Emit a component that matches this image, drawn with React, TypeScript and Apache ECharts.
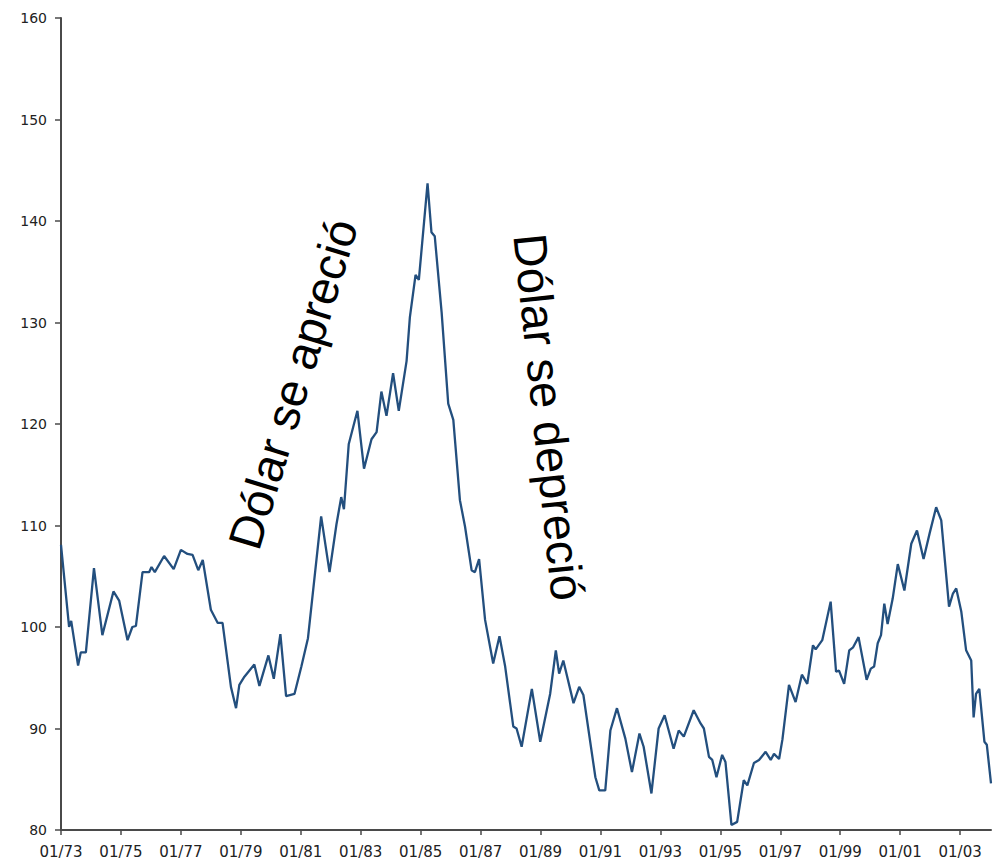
import React, { useEffect, useRef } from "react";
import * as echarts from "echarts";

// Decimal year of each reading (start of 1973 = 1973.0)
const dates: number[] = [
  1973.0, 1973.27, 1973.34, 1973.57, 1973.66, 1973.83, 1974.1, 1974.38, 1974.75, 1974.94,
  1975.22, 1975.38, 1975.5, 1975.72, 1975.94, 1976.02, 1976.13, 1976.44, 1976.76, 1977.0,
  1977.22, 1977.39, 1977.58, 1977.73, 1978.0, 1978.23, 1978.39, 1978.67, 1978.84, 1978.95,
  1979.12, 1979.45, 1979.62, 1979.92, 1980.1, 1980.32, 1980.51, 1980.79, 1981.02, 1981.24,
  1981.68, 1981.96, 1982.19, 1982.35, 1982.44, 1982.6, 1982.89, 1983.11, 1983.36, 1983.53,
  1983.69, 1983.86, 1984.08, 1984.27, 1984.53, 1984.64, 1984.83, 1984.94, 1985.23, 1985.36,
  1985.47, 1985.7, 1985.92, 1986.09, 1986.31, 1986.48, 1986.7, 1986.81, 1986.95, 1987.15,
  1987.42, 1987.63, 1987.82, 1988.09, 1988.2, 1988.37, 1988.71, 1988.99, 1989.32, 1989.51,
  1989.62, 1989.76, 1990.1, 1990.29, 1990.43, 1990.83, 1990.96, 1991.16, 1991.33, 1991.55,
  1991.83, 1992.05, 1992.3, 1992.44, 1992.7, 1992.94, 1993.14, 1993.44, 1993.61, 1993.78,
  1994.11, 1994.34, 1994.45, 1994.62, 1994.73, 1994.87, 1995.06, 1995.17, 1995.37, 1995.56,
  1995.78, 1995.9, 1996.12, 1996.29, 1996.51, 1996.68, 1996.79, 1996.96, 1997.07, 1997.29,
  1997.51, 1997.72, 1997.9, 1998.09, 1998.18, 1998.4, 1998.68, 1998.86, 1998.96, 1999.13,
  1999.3, 1999.43, 1999.61, 1999.88, 2000.02, 2000.13, 2000.25, 2000.36, 2000.47, 2000.58,
  2000.75, 2000.92, 2001.14, 2001.37, 2001.56, 2001.78, 2001.98, 2002.2, 2002.37, 2002.63,
  2002.76, 2002.87, 2003.04, 2003.2, 2003.37, 2003.45, 2003.53, 2003.64, 2003.81, 2003.89,
  2004.03,
];

// Dollar index readings
const values: number[] = [
  108.1, 100.0, 100.6, 96.2, 97.5, 97.5, 105.8, 99.2, 103.5, 102.6,
  98.7, 100.0, 100.1, 105.4, 105.4, 105.9, 105.4, 107.0, 105.7, 107.6,
  107.2, 107.1, 105.6, 106.6, 101.7, 100.4, 100.4, 94.1, 92.0, 94.3,
  95.1, 96.3, 94.2, 97.2, 94.9, 99.3, 93.2, 93.4, 96.1, 98.9,
  110.9, 105.4, 110.1, 112.8, 111.6, 118.0, 121.3, 115.6, 118.5, 119.2,
  123.2, 120.8, 125.0, 121.3, 126.2, 130.5, 134.7, 134.2, 143.7, 138.9,
  138.5, 131.0, 122.0, 120.4, 112.5, 109.9, 105.6, 105.4, 106.7, 100.7,
  96.4, 99.1, 96.1, 90.2, 90.0, 88.2, 93.9, 88.7, 93.4, 97.7,
  95.4, 96.7, 92.5, 94.1, 93.3, 85.2, 83.9, 83.9, 89.8, 92.0,
  89.0, 85.7, 89.5, 88.2, 83.6, 90.0, 91.3, 88.0, 89.8, 89.2,
  91.8, 90.5, 90.0, 87.2, 86.9, 85.2, 87.4, 86.7, 80.5, 80.8,
  84.9, 84.4, 86.6, 86.9, 87.7, 86.9, 87.5, 87.0, 88.9, 94.3,
  92.6, 95.3, 94.4, 98.2, 97.8, 98.7, 102.5, 95.6, 95.7, 94.4,
  97.7, 98.0, 99.0, 94.8, 95.9, 96.1, 98.4, 99.2, 102.3, 100.3,
  102.8, 106.2, 103.6, 108.2, 109.5, 106.7, 109.2, 111.8, 110.5, 102.0,
  103.3, 103.8, 101.5, 97.7, 96.7, 91.1, 93.4, 93.9, 88.7, 88.4,
  84.6,
];

const startYear = 1973;
const endYear = 2004.03;
const tickYears: number[] = [1973, 1975, 1977, 1979, 1981, 1983, 1985, 1987, 1989, 1991, 1993, 1995, 1997, 1999, 2001, 2003];
const tickLabels: string[] = ["01/73", "01/75", "01/77", "01/79", "01/81", "01/83", "01/85", "01/87", "01/89", "01/91", "01/93", "01/95", "01/97", "01/99", "01/01", "01/03"];
const yMin = 80;
const yMax = 160;
const yStep = 10;

const annotations = [
  { text: "Dólar se apreció" },
  { text: "Dólar se depreció" },
];

export default function App() {
  const ref = useRef<HTMLDivElement>(null);

  useEffect(() => {
    if (!ref.current) return;
    const chart = echarts.init(ref.current, undefined, { renderer: "svg" });
    const offsets = tickYears.map((y) => y - startYear);
    const labelFont = "'DejaVu Sans', 'Liberation Sans', Arial, sans-serif";
    chart.setOption({
      animation: false,
      backgroundColor: "#ffffff",
      grid: { left: 61, right: 3, top: 18, bottom: 37, containLabel: false },
      xAxis: {
        type: "value",
        min: 0,
        max: endYear - startYear,
        axisLine: { show: true, onZero: false, lineStyle: { color: "#4a4a4a", width: 2 } },
        axisTick: { show: true, length: 5, customValues: offsets, lineStyle: { color: "#4a4a4a", width: 1.5 } },
        axisLabel: {
          customValues: offsets,
          margin: 14,
          color: "#222",
          fontSize: 15,
          fontFamily: labelFont,
          formatter: (v: number) => {
            const i = offsets.findIndex((o) => Math.abs(o - v) < 1e-6);
            return i >= 0 ? tickLabels[i] : "";
          },
        },
        splitLine: { show: false },
      },
      yAxis: {
        type: "value",
        min: yMin,
        max: yMax,
        interval: yStep,
        axisLine: { show: true, lineStyle: { color: "#4a4a4a", width: 2 } },
        axisTick: { show: true, length: 6, lineStyle: { color: "#4a4a4a", width: 1.5 } },
        axisLabel: { margin: 14, color: "#222", fontSize: 14, fontFamily: labelFont },
        splitLine: { show: false },
      },
      series: [
        {
          type: "line",
          data: dates.map((d, i) => [d - startYear, values[i]]),
          showSymbol: false,
          symbol: "none",
          smooth: false,
          lineStyle: { color: "#234f7e", width: 2.3 },
        },
      ],
      graphic: [
        {
          type: "text",
          x: 293,
          y: 384,
          rotation: (73 * Math.PI) / 180,
          style: {
            text: annotations[0].text,
            fontSize: 47,
            fontFamily: "'Liberation Sans', Arial, sans-serif",
            fill: "#000",
            textAlign: "center",
            textVerticalAlign: "middle",
          },
        },
        {
          type: "text",
          x: 549,
          y: 417,
          rotation: (-84 * Math.PI) / 180,
          style: {
            text: annotations[1].text,
            fontSize: 47,
            fontFamily: "'Liberation Sans', Arial, sans-serif",
            fill: "#000",
            textAlign: "center",
            textVerticalAlign: "middle",
          },
        },
      ],
    });
    return () => chart.dispose();
  }, []);

  return (
    <div
      ref={ref}
      style={{ position: "fixed", left: 0, top: 0, width: 994, height: 867, background: "#fff" }}
    />
  );
}
